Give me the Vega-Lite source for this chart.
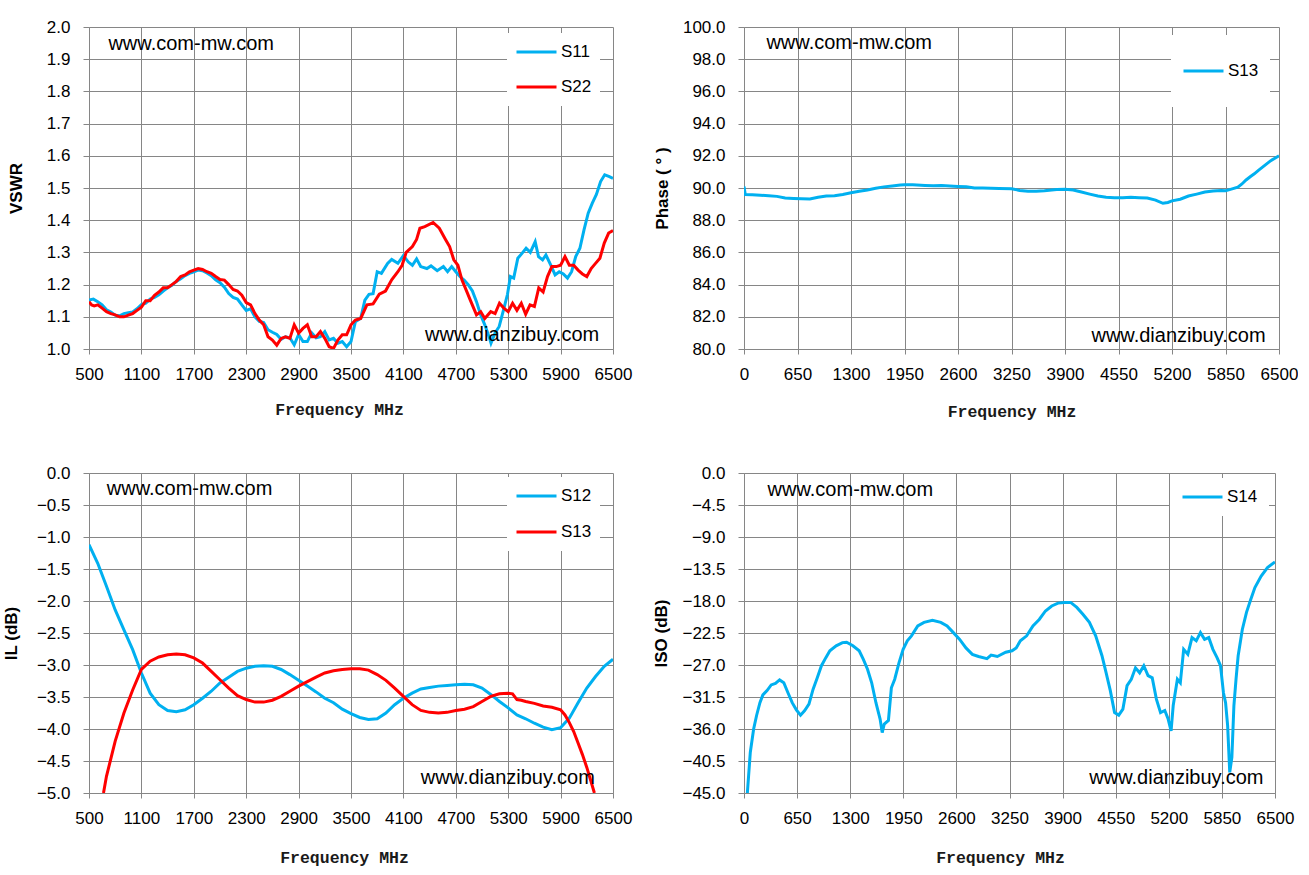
{
  "$schema": "https://vega.github.io/schema/vega-lite/v6.json",
  "background": "white",
  "padding": {"left": 2, "top": 18, "right": 0, "bottom": 0},
  "columns": 2,
  "bounds": "flush",
  "spacing": {"row": 124, "column": 131},
  "resolve": {
    "scale": {"color": "independent", "x": "independent", "y": "independent"},
    "legend": {"color": "independent"}
  },
  "datasets": {
    "s11": [
      {"f":500,"v":1.152},{"f":550,"v":1.155},{"f":600,"v":1.147},{"f":650,"v":1.137},{"f":700,"v":1.122},{"f":750,"v":1.115},{"f":800,"v":1.105},{"f":850,"v":1.103},{"f":900,"v":1.11},{"f":950,"v":1.113},{"f":1000,"v":1.115},{"f":1050,"v":1.125},{"f":1100,"v":1.138},{"f":1150,"v":1.142},{"f":1200,"v":1.155},{"f":1250,"v":1.16},{"f":1300,"v":1.168},{"f":1350,"v":1.18},{"f":1400,"v":1.19},{"f":1450,"v":1.198},{"f":1500,"v":1.21},{"f":1550,"v":1.218},{"f":1600,"v":1.228},{"f":1650,"v":1.235},{"f":1700,"v":1.24},{"f":1750,"v":1.245},{"f":1800,"v":1.243},{"f":1850,"v":1.236},{"f":1900,"v":1.228},{"f":1950,"v":1.215},{"f":2000,"v":1.206},{"f":2050,"v":1.192},{"f":2100,"v":1.172},{"f":2150,"v":1.16},{"f":2200,"v":1.155},{"f":2250,"v":1.137},{"f":2300,"v":1.12},{"f":2350,"v":1.125},{"f":2400,"v":1.1},{"f":2450,"v":1.086},{"f":2500,"v":1.082},{"f":2550,"v":1.06},{"f":2600,"v":1.052},{"f":2650,"v":1.045},{"f":2700,"v":1.03},{"f":2750,"v":1.038},{"f":2800,"v":1.035},{"f":2850,"v":1.013},{"f":2900,"v":1.045},{"f":2950,"v":1.023},{"f":3000,"v":1.023},{"f":3050,"v":1.05},{"f":3100,"v":1.035},{"f":3150,"v":1.038},{"f":3200,"v":1.054},{"f":3250,"v":1.028},{"f":3300,"v":1.033},{"f":3350,"v":1.018},{"f":3400,"v":1.023},{"f":3450,"v":1.007},{"f":3500,"v":1.023},{"f":3550,"v":1.085},{"f":3611,"v":1.095},{"f":3659,"v":1.152},{"f":3706,"v":1.17},{"f":3753,"v":1.172},{"f":3800,"v":1.24},{"f":3848,"v":1.235},{"f":3919,"v":1.266},{"f":3966,"v":1.278},{"f":4037,"v":1.266},{"f":4100,"v":1.29},{"f":4157,"v":1.27},{"f":4203,"v":1.26},{"f":4251,"v":1.28},{"f":4298,"v":1.256},{"f":4369,"v":1.25},{"f":4416,"v":1.258},{"f":4487,"v":1.243},{"f":4558,"v":1.256},{"f":4606,"v":1.24},{"f":4653,"v":1.256},{"f":4700,"v":1.24},{"f":4747,"v":1.225},{"f":4795,"v":1.214},{"f":4842,"v":1.2},{"f":4890,"v":1.18},{"f":4937,"v":1.147},{"f":4985,"v":1.106},{"f":5032,"v":1.075},{"f":5079,"v":1.04},{"f":5103,"v":1.018},{"f":5150,"v":1.05},{"f":5197,"v":1.07},{"f":5245,"v":1.12},{"f":5292,"v":1.17},{"f":5325,"v":1.225},{"f":5363,"v":1.22},{"f":5410,"v":1.282},{"f":5458,"v":1.297},{"f":5505,"v":1.313},{"f":5553,"v":1.3},{"f":5609,"v":1.333},{"f":5647,"v":1.287},{"f":5694,"v":1.277},{"f":5732,"v":1.292},{"f":5789,"v":1.26},{"f":5837,"v":1.23},{"f":5884,"v":1.24},{"f":5931,"v":1.233},{"f":5979,"v":1.22},{"f":6026,"v":1.24},{"f":6073,"v":1.287},{"f":6121,"v":1.313},{"f":6168,"v":1.37},{"f":6216,"v":1.422},{"f":6263,"v":1.453},{"f":6310,"v":1.48},{"f":6358,"v":1.52},{"f":6405,"v":1.541},{"f":6452,"v":1.536},{"f":6500,"v":1.53}
    ],
    "s22": [
      {"f":500,"v":1.147},{"f":530,"v":1.137},{"f":560,"v":1.134},{"f":600,"v":1.137},{"f":650,"v":1.127},{"f":700,"v":1.116},{"f":750,"v":1.11},{"f":800,"v":1.106},{"f":850,"v":1.1},{"f":900,"v":1.1},{"f":950,"v":1.105},{"f":1000,"v":1.11},{"f":1050,"v":1.12},{"f":1100,"v":1.13},{"f":1150,"v":1.15},{"f":1200,"v":1.15},{"f":1250,"v":1.167},{"f":1300,"v":1.177},{"f":1350,"v":1.19},{"f":1400,"v":1.19},{"f":1450,"v":1.2},{"f":1500,"v":1.21},{"f":1550,"v":1.225},{"f":1600,"v":1.23},{"f":1650,"v":1.24},{"f":1700,"v":1.245},{"f":1750,"v":1.25},{"f":1800,"v":1.247},{"f":1850,"v":1.24},{"f":1900,"v":1.235},{"f":1950,"v":1.225},{"f":2000,"v":1.216},{"f":2050,"v":1.214},{"f":2100,"v":1.2},{"f":2150,"v":1.185},{"f":2200,"v":1.18},{"f":2250,"v":1.167},{"f":2300,"v":1.144},{"f":2350,"v":1.137},{"f":2400,"v":1.11},{"f":2450,"v":1.09},{"f":2500,"v":1.075},{"f":2550,"v":1.038},{"f":2600,"v":1.028},{"f":2650,"v":1.012},{"f":2700,"v":1.033},{"f":2750,"v":1.038},{"f":2800,"v":1.033},{"f":2850,"v":1.075},{"f":2900,"v":1.049},{"f":2950,"v":1.064},{"f":3000,"v":1.075},{"f":3050,"v":1.038},{"f":3100,"v":1.038},{"f":3150,"v":1.054},{"f":3200,"v":1.033},{"f":3250,"v":1.007},{"f":3300,"v":1.002},{"f":3350,"v":1.028},{"f":3400,"v":1.044},{"f":3450,"v":1.044},{"f":3500,"v":1.075},{"f":3550,"v":1.09},{"f":3611,"v":1.095},{"f":3682,"v":1.137},{"f":3753,"v":1.14},{"f":3824,"v":1.17},{"f":3895,"v":1.18},{"f":3966,"v":1.215},{"f":4037,"v":1.24},{"f":4085,"v":1.26},{"f":4132,"v":1.3},{"f":4203,"v":1.318},{"f":4251,"v":1.34},{"f":4289,"v":1.375},{"f":4345,"v":1.38},{"f":4440,"v":1.393},{"f":4511,"v":1.375},{"f":4582,"v":1.34},{"f":4629,"v":1.318},{"f":4677,"v":1.277},{"f":4724,"v":1.26},{"f":4771,"v":1.214},{"f":4819,"v":1.183},{"f":4866,"v":1.152},{"f":4937,"v":1.106},{"f":4985,"v":1.116},{"f":5032,"v":1.095},{"f":5100,"v":1.116},{"f":5150,"v":1.11},{"f":5200,"v":1.142},{"f":5250,"v":1.127},{"f":5300,"v":1.116},{"f":5350,"v":1.142},{"f":5400,"v":1.12},{"f":5450,"v":1.142},{"f":5500,"v":1.108},{"f":5550,"v":1.137},{"f":5600,"v":1.132},{"f":5650,"v":1.19},{"f":5700,"v":1.177},{"f":5750,"v":1.225},{"f":5800,"v":1.256},{"f":5850,"v":1.256},{"f":5900,"v":1.26},{"f":5950,"v":1.287},{"f":6000,"v":1.26},{"f":6050,"v":1.26},{"f":6100,"v":1.245},{"f":6150,"v":1.233},{"f":6200,"v":1.225},{"f":6250,"v":1.25},{"f":6300,"v":1.266},{"f":6350,"v":1.282},{"f":6400,"v":1.329},{"f":6450,"v":1.36},{"f":6500,"v":1.368}
    ],
    "phase13": [
      {"f":0,"v":90.1},{"f":15,"v":89.6},{"f":100,"v":89.58},{"f":200,"v":89.55},{"f":300,"v":89.52},{"f":400,"v":89.48},{"f":500,"v":89.38},{"f":600,"v":89.35},{"f":700,"v":89.33},{"f":800,"v":89.32},{"f":900,"v":89.42},{"f":1000,"v":89.5},{"f":1100,"v":89.52},{"f":1200,"v":89.6},{"f":1300,"v":89.7},{"f":1400,"v":89.8},{"f":1500,"v":89.88},{"f":1600,"v":89.98},{"f":1700,"v":90.07},{"f":1800,"v":90.12},{"f":1900,"v":90.18},{"f":1950,"v":90.2},{"f":2050,"v":90.2},{"f":2200,"v":90.16},{"f":2300,"v":90.14},{"f":2400,"v":90.15},{"f":2500,"v":90.12},{"f":2600,"v":90.1},{"f":2700,"v":90.08},{"f":2800,"v":90.0},{"f":2900,"v":90.0},{"f":3000,"v":89.98},{"f":3100,"v":89.97},{"f":3250,"v":89.95},{"f":3350,"v":89.85},{"f":3450,"v":89.8},{"f":3550,"v":89.8},{"f":3650,"v":89.83},{"f":3800,"v":89.9},{"f":3900,"v":89.92},{"f":4000,"v":89.88},{"f":4100,"v":89.75},{"f":4200,"v":89.62},{"f":4300,"v":89.5},{"f":4400,"v":89.43},{"f":4500,"v":89.4},{"f":4600,"v":89.4},{"f":4700,"v":89.42},{"f":4800,"v":89.4},{"f":4900,"v":89.38},{"f":5000,"v":89.25},{"f":5090,"v":89.05},{"f":5150,"v":89.1},{"f":5200,"v":89.2},{"f":5300,"v":89.3},{"f":5400,"v":89.5},{"f":5500,"v":89.62},{"f":5600,"v":89.75},{"f":5700,"v":89.82},{"f":5800,"v":89.85},{"f":5850,"v":89.83},{"f":5900,"v":89.9},{"f":6000,"v":90.05},{"f":6050,"v":90.25},{"f":6100,"v":90.5},{"f":6150,"v":90.7},{"f":6200,"v":90.88},{"f":6250,"v":91.1},{"f":6300,"v":91.3},{"f":6350,"v":91.5},{"f":6400,"v":91.7},{"f":6450,"v":91.85},{"f":6500,"v":92.0}
    ],
    "il12": [
      {"f":500,"v":-1.12},{"f":600,"v":-1.41},{"f":700,"v":-1.77},{"f":800,"v":-2.14},{"f":900,"v":-2.45},{"f":1000,"v":-2.76},{"f":1100,"v":-3.125},{"f":1200,"v":-3.44},{"f":1300,"v":-3.62},{"f":1400,"v":-3.71},{"f":1500,"v":-3.73},{"f":1600,"v":-3.7},{"f":1700,"v":-3.62},{"f":1800,"v":-3.52},{"f":1900,"v":-3.41},{"f":2000,"v":-3.28},{"f":2100,"v":-3.19},{"f":2200,"v":-3.1},{"f":2300,"v":-3.05},{"f":2400,"v":-3.02},{"f":2500,"v":-3.01},{"f":2600,"v":-3.02},{"f":2700,"v":-3.07},{"f":2800,"v":-3.15},{"f":2900,"v":-3.24},{"f":3000,"v":-3.33},{"f":3100,"v":-3.42},{"f":3200,"v":-3.52},{"f":3300,"v":-3.59},{"f":3400,"v":-3.69},{"f":3500,"v":-3.76},{"f":3600,"v":-3.82},{"f":3700,"v":-3.85},{"f":3800,"v":-3.84},{"f":3900,"v":-3.75},{"f":4000,"v":-3.62},{"f":4100,"v":-3.52},{"f":4200,"v":-3.44},{"f":4300,"v":-3.375},{"f":4400,"v":-3.35},{"f":4500,"v":-3.33},{"f":4600,"v":-3.32},{"f":4700,"v":-3.31},{"f":4800,"v":-3.3},{"f":4900,"v":-3.31},{"f":5000,"v":-3.36},{"f":5100,"v":-3.46},{"f":5200,"v":-3.57},{"f":5300,"v":-3.67},{"f":5400,"v":-3.78},{"f":5500,"v":-3.84},{"f":5600,"v":-3.91},{"f":5700,"v":-3.97},{"f":5800,"v":-4.01},{"f":5900,"v":-3.98},{"f":6000,"v":-3.83},{"f":6100,"v":-3.59},{"f":6200,"v":-3.36},{"f":6300,"v":-3.18},{"f":6400,"v":-3.02},{"f":6500,"v":-2.91}
    ],
    "il13": [
      {"f":666,"v":-5.0},{"f":700,"v":-4.74},{"f":800,"v":-4.19},{"f":900,"v":-3.75},{"f":1000,"v":-3.39},{"f":1100,"v":-3.07},{"f":1200,"v":-2.94},{"f":1300,"v":-2.875},{"f":1400,"v":-2.84},{"f":1500,"v":-2.83},{"f":1600,"v":-2.84},{"f":1700,"v":-2.89},{"f":1800,"v":-2.97},{"f":1900,"v":-3.1},{"f":2000,"v":-3.23},{"f":2100,"v":-3.36},{"f":2200,"v":-3.48},{"f":2300,"v":-3.54},{"f":2400,"v":-3.58},{"f":2500,"v":-3.58},{"f":2600,"v":-3.55},{"f":2700,"v":-3.49},{"f":2800,"v":-3.41},{"f":2900,"v":-3.33},{"f":3000,"v":-3.26},{"f":3100,"v":-3.19},{"f":3200,"v":-3.125},{"f":3300,"v":-3.09},{"f":3400,"v":-3.07},{"f":3500,"v":-3.06},{"f":3600,"v":-3.06},{"f":3700,"v":-3.08},{"f":3800,"v":-3.15},{"f":3900,"v":-3.24},{"f":4000,"v":-3.36},{"f":4100,"v":-3.49},{"f":4200,"v":-3.62},{"f":4300,"v":-3.71},{"f":4400,"v":-3.74},{"f":4500,"v":-3.75},{"f":4600,"v":-3.74},{"f":4700,"v":-3.71},{"f":4800,"v":-3.69},{"f":4900,"v":-3.65},{"f":5000,"v":-3.57},{"f":5100,"v":-3.49},{"f":5200,"v":-3.45},{"f":5300,"v":-3.44},{"f":5350,"v":-3.45},{"f":5400,"v":-3.54},{"f":5450,"v":-3.55},{"f":5500,"v":-3.57},{"f":5600,"v":-3.6},{"f":5700,"v":-3.64},{"f":5800,"v":-3.66},{"f":5900,"v":-3.7},{"f":5950,"v":-3.78},{"f":6000,"v":-3.9},{"f":6050,"v":-4.04},{"f":6100,"v":-4.22},{"f":6150,"v":-4.4},{"f":6200,"v":-4.6},{"f":6287,"v":-5.0}
    ],
    "iso14": [
      {"f":41,"v":-45},{"f":77,"v":-39.3},{"f":118,"v":-36.0},{"f":154,"v":-34.1},{"f":195,"v":-32.3},{"f":231,"v":-31.2},{"f":282,"v":-30.6},{"f":333,"v":-29.8},{"f":385,"v":-29.6},{"f":436,"v":-29.1},{"f":487,"v":-29.5},{"f":538,"v":-30.9},{"f":590,"v":-32.3},{"f":641,"v":-33.3},{"f":692,"v":-34.05},{"f":743,"v":-33.4},{"f":795,"v":-32.5},{"f":846,"v":-30.4},{"f":897,"v":-28.8},{"f":948,"v":-27.1},{"f":1000,"v":-26.0},{"f":1051,"v":-25.0},{"f":1128,"v":-24.3},{"f":1205,"v":-23.85},{"f":1256,"v":-23.8},{"f":1333,"v":-24.3},{"f":1410,"v":-25.0},{"f":1461,"v":-26.2},{"f":1512,"v":-27.6},{"f":1563,"v":-29.5},{"f":1615,"v":-32.3},{"f":1666,"v":-34.6},{"f":1692,"v":-36.5},{"f":1717,"v":-35.3},{"f":1768,"v":-34.8},{"f":1804,"v":-30.2},{"f":1845,"v":-29.0},{"f":1897,"v":-26.7},{"f":1948,"v":-24.8},{"f":1999,"v":-23.6},{"f":2050,"v":-22.9},{"f":2127,"v":-21.5},{"f":2204,"v":-21.0},{"f":2307,"v":-20.7},{"f":2409,"v":-21.0},{"f":2486,"v":-21.5},{"f":2563,"v":-22.45},{"f":2640,"v":-23.4},{"f":2717,"v":-24.6},{"f":2795,"v":-25.5},{"f":2871,"v":-25.8},{"f":2974,"v":-26.1},{"f":3025,"v":-25.6},{"f":3101,"v":-25.8},{"f":3204,"v":-25.2},{"f":3281,"v":-25.0},{"f":3332,"v":-24.6},{"f":3383,"v":-23.6},{"f":3460,"v":-22.9},{"f":3537,"v":-21.5},{"f":3614,"v":-20.6},{"f":3690,"v":-19.4},{"f":3767,"v":-18.7},{"f":3844,"v":-18.3},{"f":3921,"v":-18.2},{"f":3998,"v":-18.2},{"f":4074,"v":-18.9},{"f":4151,"v":-19.9},{"f":4228,"v":-21.0},{"f":4305,"v":-22.9},{"f":4382,"v":-25.7},{"f":4433,"v":-28.1},{"f":4484,"v":-30.6},{"f":4536,"v":-33.7},{"f":4587,"v":-34.05},{"f":4638,"v":-33.2},{"f":4689,"v":-29.9},{"f":4741,"v":-29.0},{"f":4792,"v":-27.4},{"f":4843,"v":-28.1},{"f":4894,"v":-27.1},{"f":4946,"v":-28.5},{"f":4997,"v":-28.8},{"f":5048,"v":-31.8},{"f":5099,"v":-33.7},{"f":5151,"v":-33.4},{"f":5192,"v":-34.6},{"f":5228,"v":-36.25},{"f":5254,"v":-32.7},{"f":5305,"v":-29.0},{"f":5341,"v":-29.5},{"f":5382,"v":-24.8},{"f":5433,"v":-25.5},{"f":5484,"v":-23.15},{"f":5536,"v":-23.6},{"f":5587,"v":-22.45},{"f":5638,"v":-23.4},{"f":5689,"v":-23.15},{"f":5740,"v":-24.8},{"f":5792,"v":-26.0},{"f":5833,"v":-27.1},{"f":5869,"v":-30.9},{"f":5895,"v":-32.3},{"f":5920,"v":-35.5},{"f":5946,"v":-42.1},{"f":5972,"v":-40.0},{"f":5997,"v":-32.7},{"f":6023,"v":-29.0},{"f":6049,"v":-25.7},{"f":6100,"v":-22.0},{"f":6151,"v":-19.6},{"f":6203,"v":-17.8},{"f":6254,"v":-16.1},{"f":6331,"v":-14.5},{"f":6408,"v":-13.3},{"f":6500,"v":-12.5}
    ]
  },
  "concat": [
    {
      "width": 524,
      "height": 322,
      "encoding": {
        "x": {
          "field": "f", "type": "quantitative",
          "scale": {"domain": [500, 6500], "nice": false, "zero": false},
          "axis": {"values": [500, 1100, 1700, 2300, 2900, 3500, 4100, 4700, 5300, 5900, 6500], "format": "d", "title": "Frequency MHz", "titlePadding": 19, "titleX": 250}
        },
        "y": {
          "field": "v", "type": "quantitative",
          "scale": {"domain": [1.0, 2.0], "nice": false, "zero": false},
          "axis": {"values": [1.0, 1.1, 1.2, 1.3, 1.4, 1.5, 1.6, 1.7, 1.8, 1.9, 2.0], "format": ".1f", "title": "VSWR", "titlePadding": 21}
        }
      },
      "layer": [
        {
          "data": {"name": "s11"},
          "mark": {"type": "line", "strokeWidth": 3, "clip": true},
          "encoding": {
            "color": {
              "datum": "S11", "type": "nominal",
              "scale": {"domain": ["S11", "S22"], "range": ["#00B0F0", "#FF0000"]},
              "legend": {"orient": "none", "legendX": 418, "legendY": 6, "clipHeight": 22, "rowPadding": 13, "padding": 8}
            }
          }
        },
        {
          "data": {"name": "s22"},
          "mark": {"type": "line", "strokeWidth": 3, "clip": true},
          "encoding": {"color": {"datum": "S22", "type": "nominal"}}
        },
        {
          "data": {"values": [{"f": 1670, "v": 1.947, "t": "www.com-mw.com"}, {"f": 5345, "v": 1.0435, "t": "www.dianzibuy.com"}]},
          "mark": {"type": "text", "fontSize": 20, "font": "Liberation Sans", "color": "black", "align": "center", "baseline": "middle"},
          "encoding": {"text": {"field": "t"}}
        }
      ]
    },
    {
      "width": 535,
      "height": 322,
      "encoding": {
        "x": {
          "field": "f", "type": "quantitative",
          "scale": {"domain": [0, 6500], "nice": false},
          "axis": {"values": [0, 650, 1300, 1950, 2600, 3250, 3900, 4550, 5200, 5850, 6500], "format": "d", "title": "Frequency MHz", "titlePadding": 21}
        },
        "y": {
          "field": "v", "type": "quantitative",
          "scale": {"domain": [80, 100], "nice": false, "zero": false},
          "axis": {"values": [80, 82, 84, 86, 88, 90, 92, 94, 96, 98, 100], "format": ".1f", "title": "Phase ( ° )", "titlePadding": 11}
        }
      },
      "layer": [
        {
          "data": {"name": "phase13"},
          "mark": {"type": "line", "strokeWidth": 3, "clip": true},
          "encoding": {
            "color": {
              "datum": "S13", "type": "nominal",
              "scale": {"domain": ["S13"], "range": ["#00B0F0"]},
              "legend": {"orient": "none", "legendX": 427, "legendY": 8, "clipHeight": 50, "rowPadding": 0, "padding": 11}
            }
          }
        },
        {
          "data": {"values": [{"f": 1278, "v": 99.03, "t": "www.com-mw.com"}, {"f": 5279, "v": 80.78, "t": "www.dianzibuy.com"}]},
          "mark": {"type": "text", "fontSize": 20, "font": "Liberation Sans", "color": "black", "align": "center", "baseline": "middle"},
          "encoding": {"text": {"field": "t"}}
        }
      ]
    },
    {
      "width": 524,
      "height": 320,
      "encoding": {
        "x": {
          "field": "f", "type": "quantitative",
          "scale": {"domain": [500, 6500], "nice": false, "zero": false},
          "axis": {"values": [500, 1100, 1700, 2300, 2900, 3500, 4100, 4700, 5300, 5900, 6500], "format": "d", "title": "Frequency MHz", "titlePadding": 23, "titleX": 255}
        },
        "y": {
          "field": "v", "type": "quantitative",
          "scale": {"domain": [-5, 0], "nice": false, "zero": false},
          "axis": {"values": [-5, -4.5, -4, -3.5, -3, -2.5, -2, -1.5, -1, -0.5, 0], "format": ".1f", "title": "IL (dB)", "titlePadding": 16}
        }
      },
      "layer": [
        {
          "data": {"name": "il12"},
          "mark": {"type": "line", "strokeWidth": 3, "clip": true},
          "encoding": {
            "color": {
              "datum": "S12", "type": "nominal",
              "scale": {"domain": ["S12", "S13"], "range": ["#00B0F0", "#FF0000"]},
              "legend": {"orient": "none", "legendX": 418, "legendY": 4, "clipHeight": 22, "rowPadding": 14, "padding": 8}
            }
          }
        },
        {
          "data": {"name": "il13"},
          "mark": {"type": "line", "strokeWidth": 3, "clip": true},
          "encoding": {"color": {"datum": "S13", "type": "nominal"}}
        },
        {
          "data": {"values": [{"f": 1651, "v": -0.25, "t": "www.com-mw.com"}, {"f": 5295, "v": -4.766, "t": "www.dianzibuy.com"}]},
          "mark": {"type": "text", "fontSize": 20, "font": "Liberation Sans", "color": "black", "align": "center", "baseline": "middle"},
          "encoding": {"text": {"field": "t"}}
        }
      ]
    },
    {
      "width": 531,
      "height": 320,
      "encoding": {
        "x": {
          "field": "f", "type": "quantitative",
          "scale": {"domain": [0, 6500], "nice": false},
          "axis": {"values": [0, 650, 1300, 1950, 2600, 3250, 3900, 4550, 5200, 5850, 6500], "format": "d", "title": "Frequency MHz", "titlePadding": 23, "titleX": 256}
        },
        "y": {
          "field": "v", "type": "quantitative",
          "scale": {"domain": [-45, 0], "nice": false, "zero": false},
          "axis": {"values": [-45, -40.5, -36, -31.5, -27, -22.5, -18, -13.5, -9, -4.5, 0], "format": ".1f", "title": "ISO (dB)", "titlePadding": 11}
        }
      },
      "layer": [
        {
          "data": {"name": "iso14"},
          "mark": {"type": "line", "strokeWidth": 3, "clip": true},
          "encoding": {
            "color": {
              "datum": "S14", "type": "nominal",
              "scale": {"domain": ["S14"], "range": ["#00B0F0"]},
              "legend": {"orient": "none", "legendX": 426, "legendY": 5, "clipHeight": 16, "rowPadding": 0, "padding": 11}
            }
          }
        },
        {
          "data": {"values": [{"f": 1302, "v": -2.35, "t": "www.com-mw.com"}, {"f": 5293, "v": -42.9, "t": "www.dianzibuy.com"}]},
          "mark": {"type": "text", "fontSize": 20, "font": "Liberation Sans", "color": "black", "align": "center", "baseline": "middle"},
          "encoding": {"text": {"field": "t"}}
        }
      ]
    }
  ],
  "config": {
    "font": "Liberation Sans",
    "view": {"stroke": null},
    "axis": {
      "grid": true,
      "gridColor": "#868686",
      "gridOpacity": 1,
      "gridWidth": 1,
      "domainColor": "#868686",
      "tickColor": "#868686",
      "labelColor": "black",
      "labelFont": "Liberation Sans",
      "labelFontSize": 17,
      "labelFlush": false,
      "labelOverlap": false,
      "titleColor": "black"
    },
    "axisX": {
      "tickSize": 5,
      "labelPadding": 12,
      "titleFont": "Liberation Mono",
      "titleFontWeight": "bold",
      "titleFontSize": 16.5,
      "titleColor": "#1a1a1a"
    },
    "axisY": {
      "tickSize": 6,
      "labelPadding": 13,
      "titleFont": "Liberation Sans",
      "titleFontWeight": "bold",
      "titleFontSize": 17
    },
    "legend": {
      "title": null,
      "symbolType": "stroke",
      "symbolSize": 1600,
      "symbolStrokeWidth": 3,
      "labelFont": "Liberation Sans",
      "labelFontSize": 17,
      "labelColor": "black",
      "labelOffset": 3,
      "fillColor": "white",
      "strokeColor": null
    }
  }
}
